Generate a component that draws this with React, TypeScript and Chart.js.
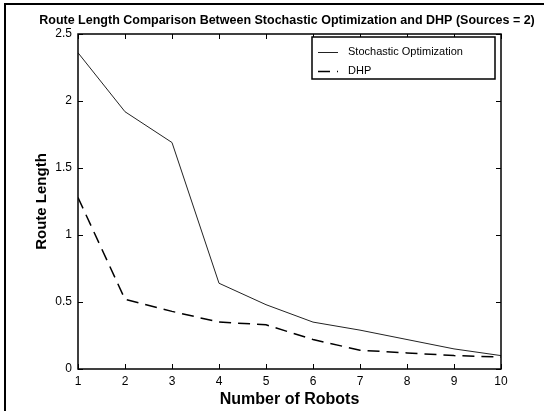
import React, { useEffect, useRef } from "react";
import { Chart, registerables } from "chart.js";

Chart.register(...registerables);

const robots = [1, 2, 3, 4, 5, 6, 7, 8, 9, 10];
const stochastic = [2.36, 1.92, 1.69, 0.64, 0.48, 0.35, 0.29, 0.22, 0.15, 0.1];
const dhp = [1.28, 0.52, 0.43, 0.35, 0.33, 0.22, 0.14, 0.12, 0.1, 0.09];
const seriesNames = ["Stochastic Optimization", "DHP"];
const titleText = "Route Length Comparison Between Stochastic Optimization and DHP (Sources = 2)";
const xTitle = "Number of Robots";
const yTitle = "Route Length";

const FONT = "'Liberation Sans', Arial, Helvetica, sans-serif";

const framePlugin = {
  id: "frame",
  afterDraw(chart: any) {
    const { ctx, chartArea, scales } = chart;
    const { left, right, top, bottom } = chartArea;
    const x = scales.x;
    const y = scales.y;
    ctx.save();
    // figure border
    ctx.strokeStyle = "#000";
    ctx.lineWidth = 2;
    ctx.beginPath();
    ctx.moveTo(5, 411);
    ctx.lineTo(5, 4);
    ctx.lineTo(544, 4);
    ctx.stroke();
    // title
    ctx.fillStyle = "#000";
    ctx.font = `bold 12.5px ${FONT}`;
    ctx.textAlign = "center";
    ctx.textBaseline = "middle";
    ctx.fillText(titleText, 287, 21);
    // plot frame
    ctx.lineWidth = 1.5;
    ctx.strokeRect(left, top, right - left, bottom - top);
    ctx.lineWidth = 1;
    ctx.beginPath();
    x.ticks.forEach((t: any) => {
      const px = Math.round(x.getPixelForValue(t.value)) + 0.5;
      ctx.moveTo(px, bottom);
      ctx.lineTo(px, bottom - 5);
      ctx.moveTo(px, top);
      ctx.lineTo(px, top + 5);
    });
    y.ticks.forEach((t: any) => {
      const py = Math.round(y.getPixelForValue(t.value)) + 0.5;
      ctx.moveTo(left, py);
      ctx.lineTo(left + 5, py);
      ctx.moveTo(right, py);
      ctx.lineTo(right - 5, py);
    });
    ctx.stroke();
    // legend
    const lx = 312, ly = 37, lw = 183, lh = 42;
    ctx.fillStyle = "#fff";
    ctx.fillRect(lx, ly, lw, lh);
    ctx.lineWidth = 1.5;
    ctx.strokeRect(lx, ly, lw, lh);
    const rows = [52, 71];
    chart.data.datasets.forEach((ds: any, i: number) => {
      const ry = rows[i] + 0.5;
      ctx.strokeStyle = ds.borderColor;
      ctx.lineWidth = ds.borderWidth;
      ctx.setLineDash(ds.borderDash || []);
      ctx.beginPath();
      ctx.moveTo(318, ry);
      ctx.lineTo(338, ry);
      ctx.stroke();
      ctx.setLineDash([]);
      ctx.fillStyle = "#000";
      ctx.font = `11px ${FONT}`;
      ctx.textBaseline = "middle";
      ctx.textAlign = "left";
      ctx.fillText(ds.label, 348, rows[i]);
    });
    ctx.restore();
  },
};

export default function App() {
  const ref = useRef<HTMLCanvasElement | null>(null);
  useEffect(() => {
    if (!ref.current) return;
    const chart = new Chart(ref.current, {
      type: "line",
      data: {
        datasets: [
          {
            label: seriesNames[0],
            data: robots.map((r, i) => ({ x: r, y: stochastic[i] })),
            borderColor: "#222",
            borderWidth: 1,
            pointRadius: 0,
            tension: 0,
            fill: false,
          },
          {
            label: seriesNames[1],
            data: robots.map((r, i) => ({ x: r, y: dhp[i] })),
            borderColor: "#000",
            borderWidth: 1.5,
            borderDash: [12, 7],
            pointRadius: 0,
            tension: 0,
            fill: false,
          },
        ],
      },
      options: {
        animation: false,
        responsive: false,
        maintainAspectRatio: false,
        layout: { padding: { left: 0, right: 43, top: 34, bottom: 0 } },
        plugins: {
          legend: { display: false },
          tooltip: { enabled: false },
          title: { display: false },
        },
        scales: {
          x: {
            type: "linear",
            min: 1,
            max: 10,
            ticks: {
              stepSize: 1,
              color: "#000",
              padding: 5,
              maxRotation: 0,
              font: { family: FONT, size: 12 },
            },
            grid: { display: false, drawTicks: false },
            border: { display: false },
            title: {
              display: true,
              text: xTitle,
              color: "#000",
              font: { family: FONT, size: 16, weight: "bold" },
              padding: { top: 0, bottom: 2 },
            },
            afterFit: (s: any) => {
              s.height = 42;
            },
          },
          y: {
            type: "linear",
            min: 0,
            max: 2.5,
            ticks: {
              stepSize: 0.5,
              color: "#000",
              padding: 6,
              font: { family: FONT, size: 12 },
              callback: (v: any) => String(v),
            },
            grid: { display: false, drawTicks: false },
            border: { display: false },
            title: {
              display: true,
              text: yTitle,
              color: "#000",
              font: { family: FONT, size: 15, weight: "bold" },
              padding: { top: 33, bottom: 0 },
            },
            afterFit: (s: any) => {
              s.width = 78;
            },
          },
        },
      },
      plugins: [framePlugin],
    });
    return () => chart.destroy();
  }, []);
  return (
    <div style={{ position: "fixed", left: 0, top: 0, width: 544, height: 411, background: "#fff" }}>
      <canvas ref={ref} width={544} height={411} style={{ display: "block" }} />
    </div>
  );
}
